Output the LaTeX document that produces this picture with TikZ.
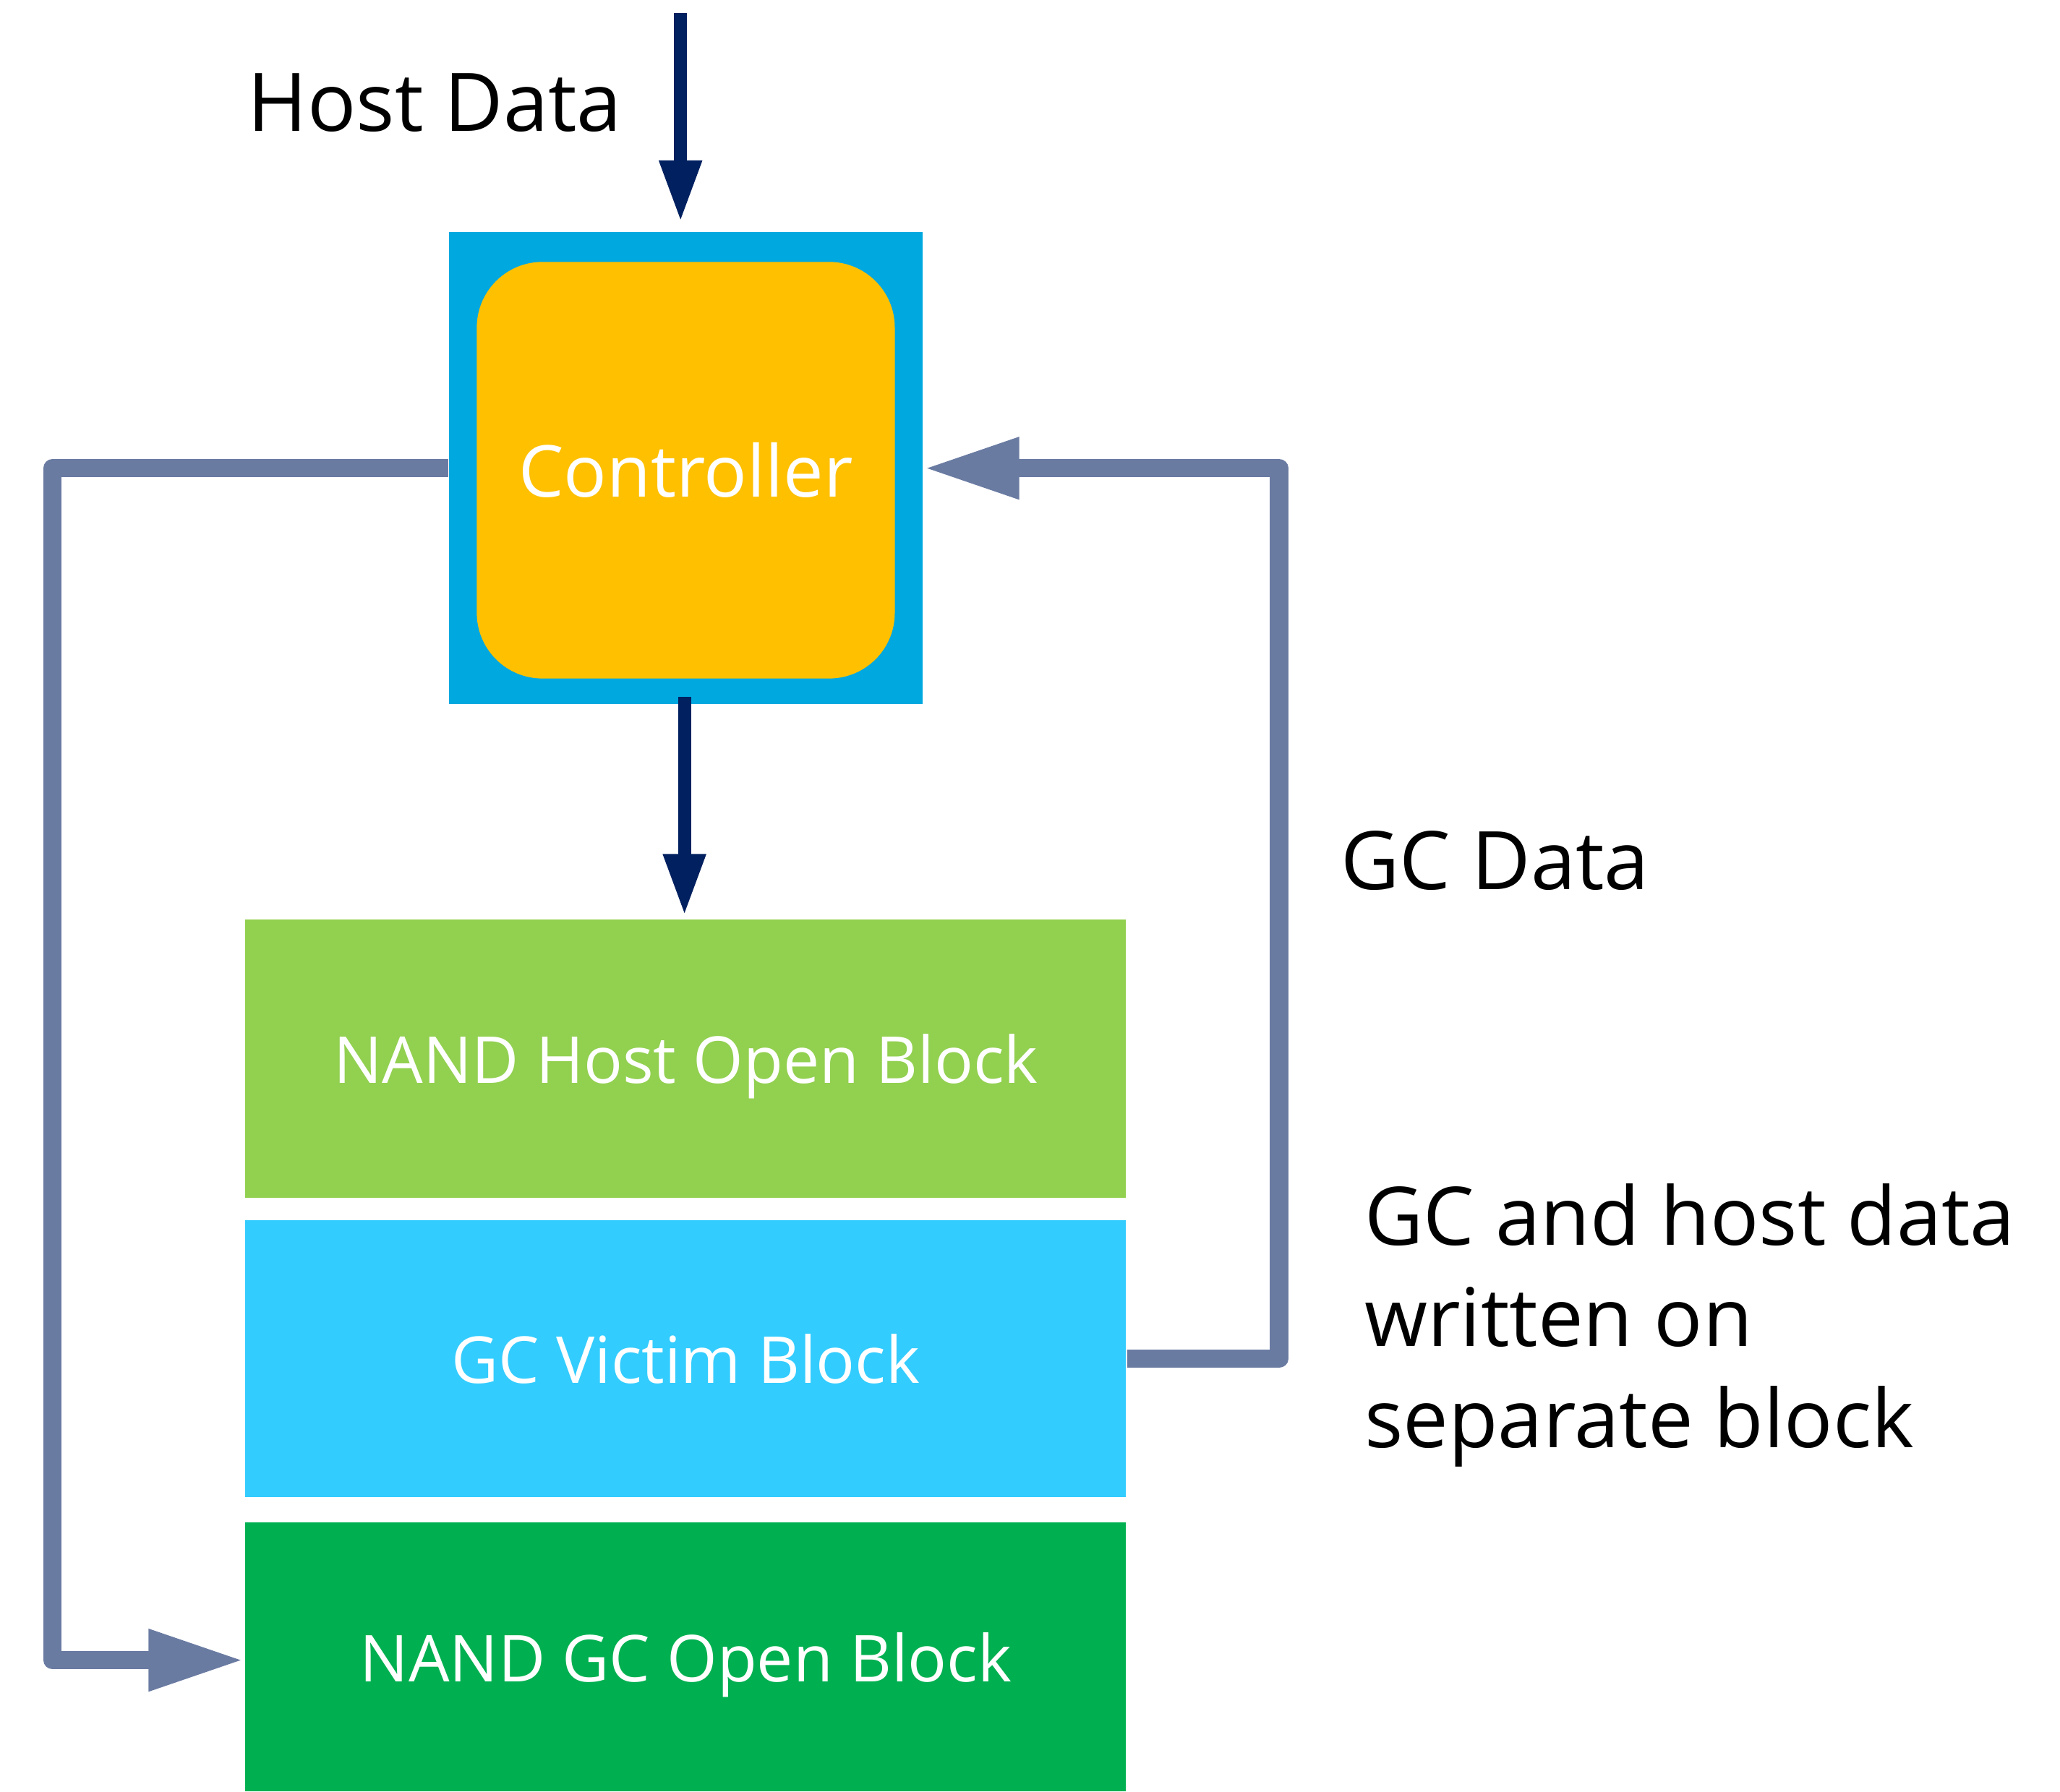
\documentclass[tikz,border=0pt]{standalone}
\usepackage{fontspec}
\setmainfont{Open Sans}
\usetikzlibrary{arrows.meta,calc}
\definecolor{navy}{HTML}{002060}
\definecolor{loopc}{HTML}{6A7BA2}
\definecolor{ctrlblue}{HTML}{00A8E0}
\definecolor{ctrlorange}{HTML}{FFC000}
\definecolor{hostgreen}{HTML}{92D050}
\definecolor{victimcyan}{HTML}{33CCFF}
\definecolor{gcgreen}{HTML}{00B050}
\tikzset{
  blockbox/.style={minimum width=6.70cm, inner sep=0pt, text depth=0pt, text=white, font=\fontsize{14}{17}\selectfont},
  navyarrow/.style={draw=navy, line width=0.10cm, -{Triangle[length=0.47cm,width=0.30cm]}},
  looparrow/.style={draw=loopc, line width=0.14cm, line join=round, -{Triangle[length=0.73cm,width=0.435cm]}},
  blacklabel/.style={inner sep=0pt, text=black, font=\fontsize{17.5}{21.9}\selectfont}
}
\begin{document}
\begin{tikzpicture}[x=0.01cm,y=-0.01cm]
\useasboundingbox (0,0) rectangle (1568,1364);
\fill[white] (0,0) rectangle (1568,1364);
% controller
\node[fill=ctrlblue, minimum width=3.60cm, minimum height=3.59cm, inner sep=0pt] (ctrl) at (522,356.5) {};
\node[fill=ctrlorange, rounded corners=0.5cm, minimum width=3.18cm, minimum height=3.17cm, inner sep=0pt, text=white, font=\fontsize{15.5}{18}\selectfont] (ctrlin) at (522,358) {Controller};
% blocks
\node[blockbox, fill=hostgreen, minimum height=2.12cm] (hob) at (522,806) {NAND Host Open Block};
\node[blockbox, fill=victimcyan, minimum height=2.11cm] (vic) at (522,1034.5) {GC Victim Block};
\node[blockbox, fill=gcgreen, minimum height=2.05cm] (gco) at (522,1261.5) {NAND GC Open Block};
% labels
\node[blacklabel, anchor=base west] (hostlbl) at (188,100) {Host Data};
\node[blacklabel, anchor=base west] (gclbl) at (1020,677) {GC Data};
\node[blacklabel, anchor=base west, align=left] (sep) at (1038,1102) {GC and host data\\written on\\separate block};
% arrows
\coordinate (htop) at (518,10);
\draw[navyarrow] (htop) -- ($(ctrl.north)+(-4,-7)$);
\draw[navyarrow] ($(ctrl.south)+(-1,-6)$) -- ($(hob.north)+(-1,-2)$);
\coordinate (lc1) at (40,356.5);
\coordinate (lc2) at (40,1264);
\draw[looparrow] (ctrl.west) -- (lc1) -- (lc2) -- (gco.west |- lc2);
\coordinate (rc1) at (973.6,1034.5);
\coordinate (rc2) at (973.6,356.5);
\draw[looparrow] (vic.east) -- (rc1) -- (rc2) -- (ctrl.east);
\end{tikzpicture}
\end{document}
